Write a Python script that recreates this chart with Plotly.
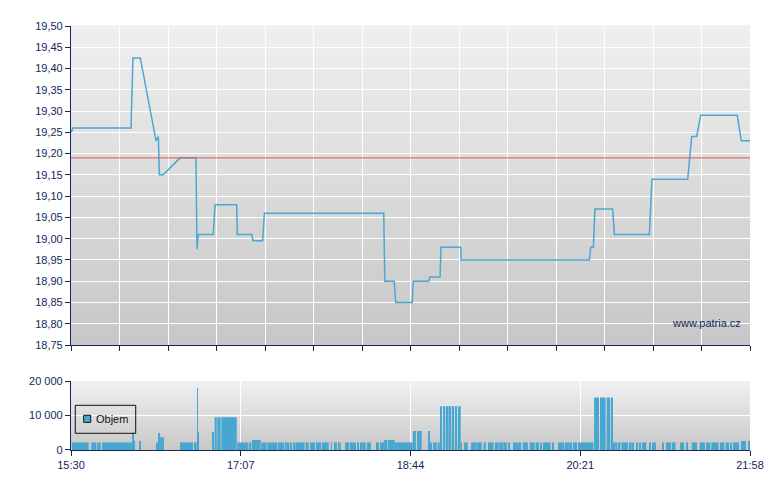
import pandas as pd
import plotly.graph_objects as go
from plotly.subplots import make_subplots

# ---------------- data ----------------
session_start = "2024-01-01 15:30:00"
session_minutes = 388          # 15:30 -> 21:58

# price line: minutes since 15:30, price
price_min = [0, 1.1, 34.3, 35.4, 39.6, 48.6, 49.9, 50.5, 52.7, 62.3, 71.4, 72.0, 72.7,
             81.3, 82.3, 94.7, 95.0, 103.3, 104.0, 109.5, 110.5, 178.7, 179.3, 184.7,
             185.5, 195.0, 195.6, 204.4, 205.1, 210.9, 211.4, 222.7, 223.0, 296.2,
             297.0, 298.5, 299.4, 309.5, 310.5, 330.5, 332.0, 352.4, 354.7, 357.5,
             359.8, 380.7, 383.0, 388]
price_val = [19.25, 19.26, 19.26, 19.425, 19.425, 19.23, 19.24, 19.15, 19.15, 19.19,
             19.19, 18.975, 19.01, 19.01, 19.08, 19.08, 19.01, 19.01, 18.995, 18.995,
             19.06, 19.06, 18.90, 18.90, 18.85, 18.85, 18.90, 18.90, 18.91, 18.91,
             18.98, 18.98, 18.95, 18.95, 18.98, 18.98, 19.07, 19.07, 19.01, 19.01,
             19.14, 19.14, 19.24, 19.24, 19.29, 19.29, 19.23, 19.23]
prev_close = 19.19

# volume bars: start minute, end minute, volume
vol_start = [0.5, 11.6, 15, 17.7, 35, 35.6, 38.9, 48.6, 49.7, 50.9, 62.3, 70.3, 72.1, 72.6,
             80.6, 82.1, 83.6, 85.9, 95, 101.5, 103.4, 108.7, 112.2, 118.3, 122.1, 123.6,
             125.1, 127, 128.2, 132.4, 134.1, 136.6, 137.5, 138.5, 140, 143.4, 148.6,
             150.3, 153, 156.6, 159.8, 161, 162.1, 163.6, 165.7, 167.4, 169.1, 174.3,
             176.7, 177.7, 178.9, 181.1, 185, 195.4, 197.7, 199.4, 204, 205.1, 206.9,
             209.5, 210.9, 212.6, 214.7, 216.2, 217.7, 219.4, 221.1, 222.9, 224.6, 228.6,
             232.4, 233.7, 235.8, 238.3, 242.3, 244.7, 247, 249.7, 252.6, 253.9, 255.3,
             256.4, 258.1, 262.1, 265.5, 268, 269.7, 273, 275.3, 278.3, 282.1, 285.7, 287,
             288.4, 289.7, 298.9, 302.3, 303.4, 306.1, 308.4, 309.9, 311, 313, 314.5,
             319.4, 321, 322.9, 324.6, 326.3, 327.8, 330.3, 332, 338.1, 340, 343.4, 348.2,
             349.1, 351.4, 354.7, 357.1, 359.3, 362.9, 365.9, 370.9, 372.4, 374.1, 377,
             378.3, 379.6, 380.7, 382.9, 386.9]
vol_end = [10.1, 14.5, 17, 35, 35.6, 36.6, 40, 49.7, 50.9, 53.1, 69.7, 71.8, 72.5, 73,
           81.3, 83.3, 85.5, 94.7, 101.1, 103, 108.4, 111.8, 117.9, 121.7, 123.3, 124.7,
           126.3, 127.8, 132, 133.5, 135.8, 137.1, 138.1, 139, 142.9, 147.3, 149.1,
           152, 154.1, 159, 160.4, 161.5, 162.7, 164.4, 166.7, 168.4, 171.4, 176,
           177.3, 178.9, 180.7, 185, 195.3, 197.1, 198.9, 200.4, 204.6, 206.3, 209,
           210.7, 212, 213.9, 215.8, 217.3, 218.9, 220.6, 222.7, 223.3, 226.7, 231.8,
           233.1, 234.7, 237, 241.5, 244.4, 246.7, 249.1, 250.9, 253.5, 254.7, 256,
           257.1, 261.1, 265, 267.4, 268.7, 272.6, 274.1, 275.6, 281.7, 285, 286.3, 287.8,
           289.1, 298.5, 301.7, 302.9, 305.5, 308, 309.7, 310.9, 312.2, 313.9, 318.3,
           320.4, 321.7, 323.8, 325.5, 327.3, 328.7, 330.9, 334.3, 338.7, 342.9, 345.5, 349,
           350.3, 352.6, 356.6, 357.7, 362.3, 365.3, 370.1, 371.8, 373.3, 376, 377.7,
           379, 380.4, 381.3, 385.7, 388]
vol_value = [2200, 2200, 2200, 2200, 5000, 2700, 2600, 2100, 4900, 3700, 2200, 2200, 18000, 5200,
             5200, 9500, 9500, 9500, 2200, 2200, 2900, 2200, 2200, 2200, 2200, 2200,
             2200, 2200, 2200, 2200, 2200, 2200, 2200, 2200, 2200, 2200, 2200,
             2200, 2200, 2200, 2200, 2200, 2200, 2200, 2200, 2200, 2200, 2200,
             2200, 2200, 2900, 2900, 2200, 5500, 5500, 5500, 5500, 2200, 2200,
             2200, 12700, 12700, 12700, 12700, 12700, 12700, 12700, 2200, 2200, 2200,
             2200, 2200, 2200, 2200, 2200, 2200, 2200, 2200, 2200, 2200, 2200,
             2200, 2200, 2200, 2200, 2200, 2200, 2200, 2200, 2200, 2200, 2200, 2200,
             2200, 2200, 15200, 15200, 15200, 15200, 15200, 2200, 2200, 2200, 2200,
             2200, 2200, 2200, 2200, 2200, 2200, 2200, 2200, 2200, 2200, 2200, 2200,
             2200, 2200, 2200, 2200, 2200, 2200, 2200, 2200, 2200, 2200, 2200,
             2200, 2200, 2200, 2600, 2600]
legend_label = "Objem"
watermark = "www.patria.cz"

# ---------------- build ----------------
t0 = pd.Timestamp(session_start)
t_end = t0 + pd.Timedelta(minutes=session_minutes)
price_t = [t0 + pd.Timedelta(minutes=m) for m in price_min]
vol_center = [t0 + pd.Timedelta(minutes=(s + e) / 2) for s, e in zip(vol_start, vol_end)]
vol_width = [(e - s) * 60000 for s, e in zip(vol_start, vol_end)]

NAVY = "#13275a"
LINE_BLUE = "#4aa8d2"
BAR_BLUE = "#47a7d0"
FONT = "Liberation Sans, Arial, sans-serif"

fig = make_subplots(rows=2, cols=1, shared_xaxes=False)

fig.add_trace(go.Scatter(x=price_t, y=price_val, mode="lines",
                         line=dict(color=LINE_BLUE, width=1.5),
                         showlegend=False, hoverinfo="skip"), row=1, col=1)

fig.add_trace(go.Bar(x=vol_center, y=vol_value, width=vol_width,
                     marker=dict(color=BAR_BLUE, line=dict(width=0)),
                     showlegend=False, hoverinfo="skip"), row=2, col=1)

# previous close reference line
fig.add_shape(type="line", xref="x domain", yref="y", x0=0, x1=1,
              y0=prev_close, y1=prev_close, line=dict(color="#d05858", width=1),
              layer="above")

# vertical gradient backgrounds
def gradient(xref, yref, top, bottom, n):
    for i in range(n):
        f = i / (n - 1)
        c = round(bottom + (top - bottom) * f)
        fig.add_shape(type="rect", xref=xref, yref=yref, x0=0, x1=1,
                      y0=i / n, y1=(i + 1) / n + 0.002,
                      fillcolor=f"rgb({c},{c},{c})", line=dict(width=0),
                      layer="below")

gradient("x domain", "y domain", 239, 199, 48)
gradient("x2 domain", "y2 domain", 239, 201, 14)

# legend box (drawn by hand to match the compact original legend)
fig.add_shape(type="rect", xref="x2 domain", yref="y2 domain",
              x0=0.0063, x1=0.0953, y0=0.242, y1=0.648,
              line=dict(color="#111111", width=1), fillcolor="rgba(0,0,0,0)",
              layer="above")
fig.add_shape(type="rect", xref="x2 domain", yref="y2 domain",
              x0=0.0187, x1=0.0290, y0=0.40, y1=0.503,
              line=dict(color="#111111", width=1), fillcolor=BAR_BLUE,
              layer="above")

axis_common = dict(showline=True, linecolor=NAVY, linewidth=1.2,
                   ticks="outside", ticklen=5, tickcolor=NAVY, tickwidth=1,
                   gridcolor="#ffffff", gridwidth=1, zeroline=False,
                   tickfont=dict(family=FONT, size=11, color=NAVY))

fig.update_xaxes(type="date", range=[t0, t_end], tick0=t0,
                 dtick=session_minutes / 14 * 60000, showticklabels=False,
                 **axis_common, row=1, col=1)
fig.update_xaxes(type="date", range=[t0, t_end], tick0=t0,
                 dtick=97 * 60000, tickformat="%H:%M",
                 **axis_common, row=2, col=1)
fig.update_yaxes(range=[18.75, 19.5], dtick=0.05, tickformat=".2f",
                 **axis_common, row=1, col=1)
fig.update_yaxes(range=[0, 20000], dtick=10000, tickformat=",d",
                 **axis_common, row=2, col=1)

# page body has an 8px margin: shrink the figure so the plot areas land where they should
fig.update_layout(
    width=772, height=482,
    margin=dict(l=63, r=30, t=18, b=40),
    paper_bgcolor="white", plot_bgcolor="#e0e0e0",
    separators=", ",
    font=dict(family=FONT, size=11, color=NAVY),
    showlegend=False,
    annotations=[
        dict(text=watermark, xref="x domain", yref="y domain",
             x=0.9897, y=0.068, xanchor="right", yanchor="middle",
             showarrow=False, font=dict(family=FONT, size=11, color=NAVY)),
        dict(text=legend_label, xref="x2 domain", yref="y2 domain",
             x=0.0335, y=0.45, xanchor="left", yanchor="middle",
             showarrow=False, font=dict(family=FONT, size=11, color="#111111")),
    ],
)
fig.update_layout(xaxis=dict(domain=[0, 1]), xaxis2=dict(domain=[0, 1]),
                  yaxis=dict(domain=[0.2476, 1.0]), yaxis2=dict(domain=[0, 0.1627]))

fig.write_html("out.html")
